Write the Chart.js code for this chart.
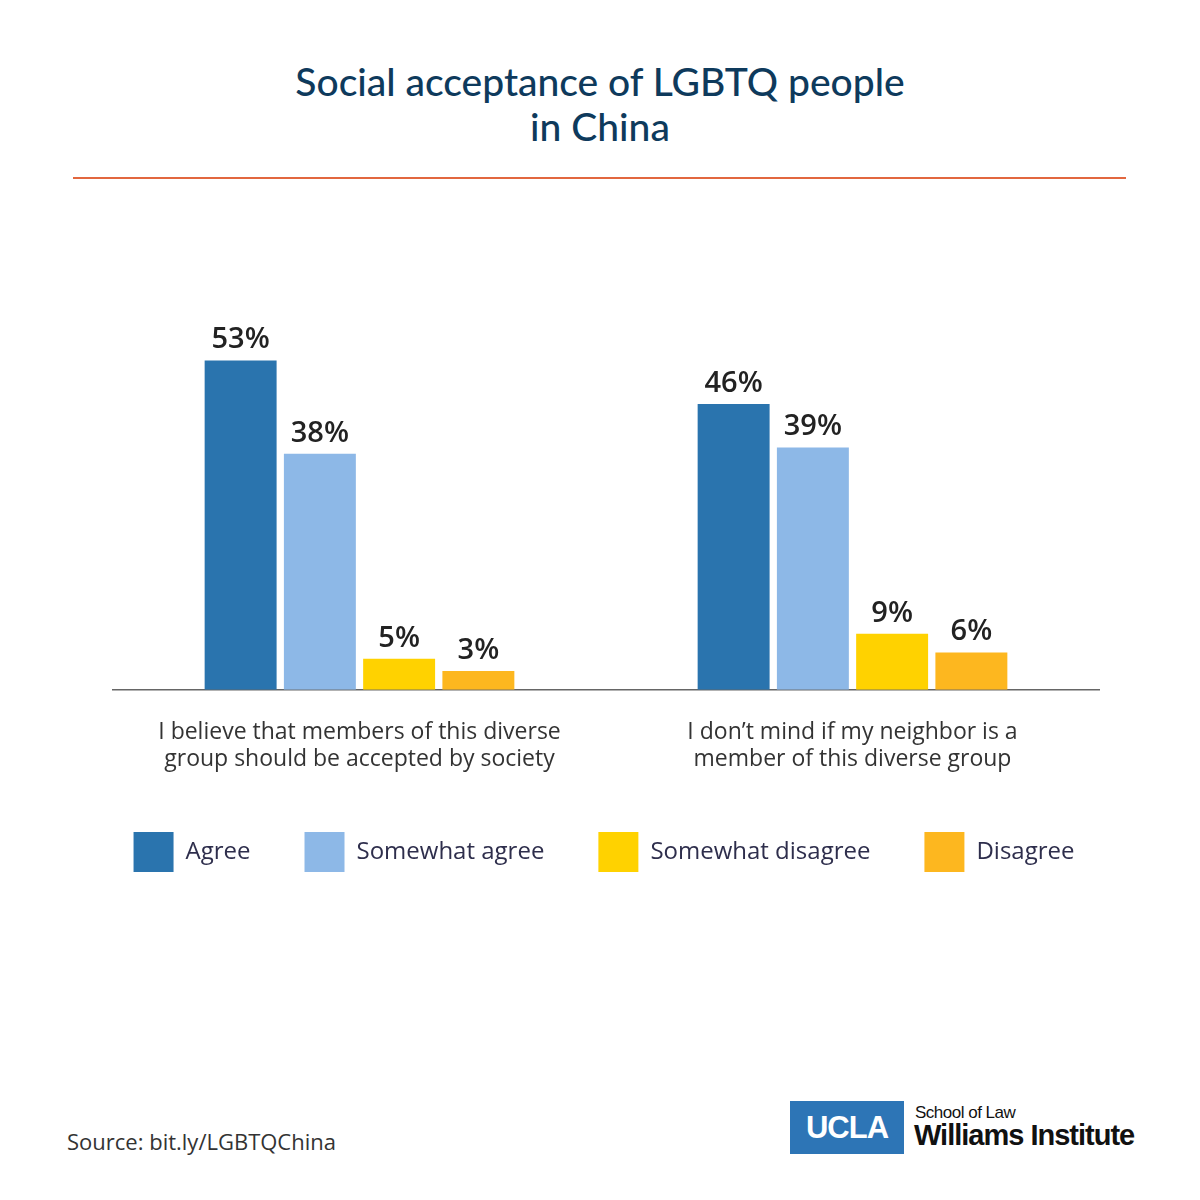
<!DOCTYPE html>
<html>
<head>
<meta charset="utf-8">
<script src="https://cdn.jsdelivr.net/npm/chart.js@4.4.1/dist/chart.umd.min.js"></script>
<style>
  body { margin:0; background:#fff; }
  #page { position:relative; width:1200px; height:1200px; background:#fff; overflow:hidden; }
  #title { position:absolute; top:59px; left:0; width:1200px; text-align:center;
           font-family:Lato, sans-serif; font-weight:500; font-size:39px; line-height:45px; color:#0e3a5c; }
  #rule { position:absolute; top:177px; left:73px; width:1053px; height:2px; background:#e2673f; }
  #wrap { position:absolute; top:201px; left:0; width:1200px; height:700px; }
  #source { position:absolute; top:1126px; left:67px; font-family:"Open Sans", sans-serif; font-size:22px; color:#333; }
  #logo-box { position:absolute; top:1101px; left:790px; width:114px; height:53px; background:#2d75b6;
              color:#fff; font-family:"Liberation Sans", Arial, sans-serif; font-weight:bold; font-size:31px;
              line-height:53px; text-align:center; letter-spacing:-1px; }
  #logo-sub { position:absolute; top:1103px; left:915px; font-family:"Liberation Sans", Arial, sans-serif; font-size:17px; color:#111; letter-spacing:-0.5px; }
  #logo-name { position:absolute; top:1119px; left:914px; font-family:"Liberation Sans", Arial, sans-serif; font-weight:bold; font-size:29px; color:#111; letter-spacing:-1px; }
</style>
</head>
<body>
<div id="page">
  <div id="title">Social acceptance of LGBTQ people<br>in China</div>
  <div id="rule"></div>
  <div id="wrap"><canvas id="barChart"></canvas></div>
  <div id="source">Source: bit.ly/LGBTQChina</div>
  <div id="logo-box">UCLA</div>
  <div id="logo-sub">School of Law</div>
  <div id="logo-name">Williams Institute</div>
</div>
<script>
// chart values
var categories = [
  ["I believe that members of this diverse", "group should be accepted by society"],
  ["I don\u2019t mind if my neighbor is a", "member of this diverse group"]
];
var seriesNames = ["Agree", "Somewhat agree", "Somewhat disagree", "Disagree"];
var agree = [53, 46];
var somewhatAgree = [38, 39];
var somewhatDisagree = [5, 9];
var disagree = [3, 6];

var colors = ["#2a74ae", "#8db8e7", "#ffd200", "#fdb71f"];

// value labels above each bar
var barLabels = {
  id: 'barLabels',
  afterDatasetsDraw: function(chart){
    var ctx = chart.ctx;
    ctx.save();
    ctx.font = '600 29px "Open Sans"';
    ctx.fillStyle = '#222';
    ctx.textAlign = 'center';
    ctx.textBaseline = 'alphabetic';
    chart.data.datasets.forEach(function(ds, i){
      chart.getDatasetMeta(i).data.forEach(function(bar, j){
        ctx.fillText(ds.data[j] + '%', bar.x, bar.y - 12);
      });
    });
    ctx.restore();
  }
};

var seriesData = [agree, somewhatAgree, somewhatDisagree, disagree];
var datasets = seriesNames.map(function(name, i){
  return {
    label: name,
    data: seriesData[i],
    backgroundColor: colors[i],
    categoryPercentage: 0.643,
    barPercentage: 0.908
  };
});

var chartDiv = document.getElementById('barChart');
var myChart = new Chart(chartDiv, {
  type: 'bar',
  data: { labels: categories, datasets: datasets },
  plugins: [barLabels],
  options: {
    responsive: true,
    maintainAspectRatio: false,
    animation: false,
    layout: { padding: { top: 116, left: 32, right: 0, bottom: 19 } },
    plugins: {
      tooltip: { enabled: false },
      legend: {
        position: 'bottom',
        labels: {
          boxWidth: 40,
          boxHeight: 40,
          padding: 30,
          color: '#2e2e4c',
          font: { family: 'Open Sans', size: 24 },
          generateLabels: function(chart){
            var items = Chart.defaults.plugins.legend.labels.generateLabels(chart);
            items.forEach(function(it){ it.text = it.text + '\u2003'; it.lineWidth = 0; });
            return items;
          }
        }
      }
    },
    scales: {
      x: {
        grid: { display: false, drawTicks: false },
        border: { display: true, color: '#666', width: 1.5 },
        ticks: {
          color: '#333',
          padding: 29,
          font: { family: 'Open Sans', size: 23, lineHeight: 1.18 }
        }
      },
      y: {
        min: 0,
        max: 60,
        grid: { display: false },
        border: { display: false },
        ticks: { display: false },
        afterFit: function(s){ s.width = 81; }
      },
      y2: {
        position: 'right',
        min: 0,
        max: 60,
        grid: { display: false },
        border: { display: false },
        ticks: { display: false },
        afterFit: function(s){ s.width = 101; }
      }
    }
  }
});
</script>
</body>
</html>
